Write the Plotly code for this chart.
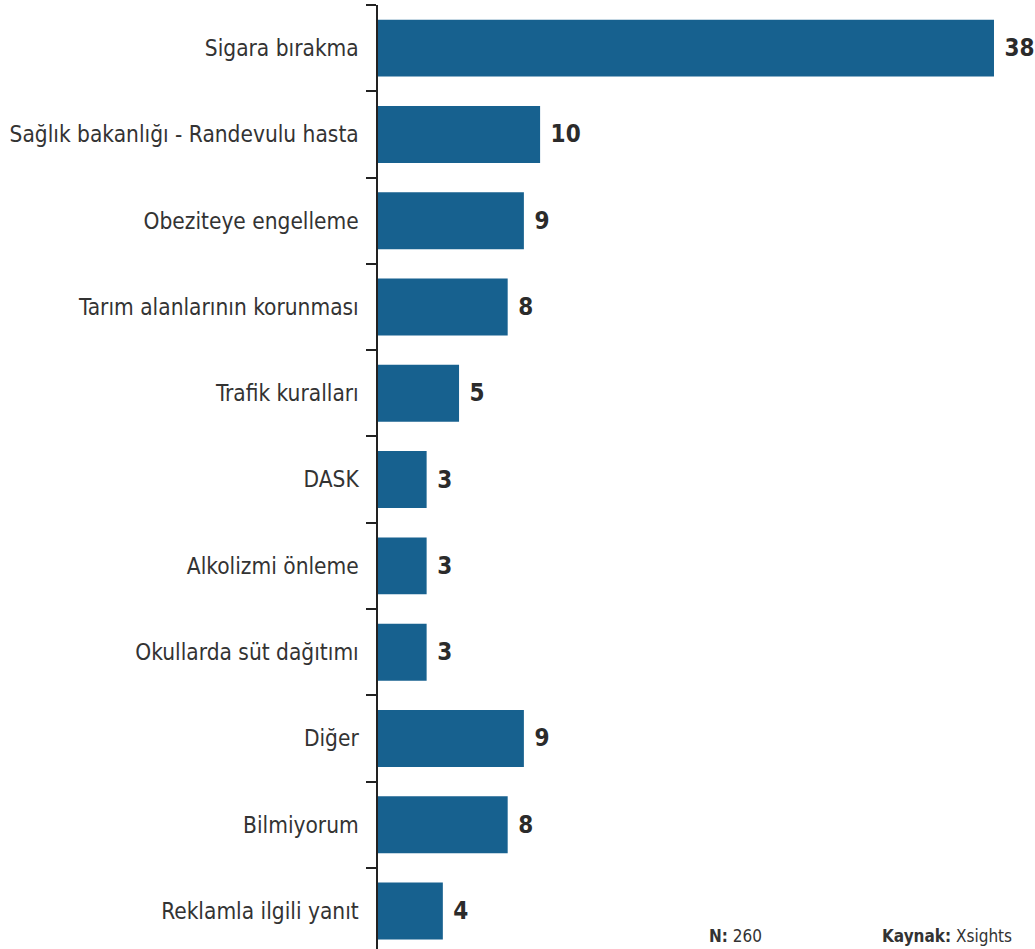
import plotly.graph_objects as go

categories = ["Sigara bırakma", "Sağlık bakanlığı - Randevulu hasta", "Obeziteye engelleme",
              "Tarım alanlarının korunması", "Trafik kuralları", "DASK", "Alkolizmi önleme",
              "Okullarda süt dağıtımı", "Diğer", "Bilmiyorum", "Reklamla ilgili yanıt"]
values = [38, 10, 9, 8, 5, 3, 3, 3, 9, 8, 4]

FONT = "Liberation Sans Narrow, DejaVu Sans Condensed, Roboto Condensed, Arial Narrow, DejaVu Sans, sans-serif"

fig = go.Figure(go.Bar(
    x=values, y=categories, orientation="h",
    marker=dict(color="#17618f", line=dict(width=0)),
    width=0.66,
    text=[" " + str(v) for v in values], textposition="outside",
    textfont=dict(family=FONT, size=24, color="#2b2b2b", weight="bold"),
    cliponaxis=False,
))

fig.update_layout(
    width=1035, height=949,
    margin=dict(l=378, r=0, t=5, b=0),
    paper_bgcolor="white", plot_bgcolor="white",
    showlegend=False,
    font=dict(family=FONT, color="#333333"),
    xaxis=dict(range=[0, 40.53], visible=False, fixedrange=True),
    yaxis=dict(type="category", range=[10.44, -0.5], showline=True, linecolor="#222222",
               linewidth=1.5, ticks="outside", ticklen=10, tickcolor="#222222", tickwidth=1.5,
               tickson="boundaries", showgrid=False, zeroline=False,
               tickfont=dict(family=FONT, size=22.5, color="#333333"), ticklabelstandoff=13),
    annotations=[
        dict(xref="paper", yref="paper", x=(707-378)/657, y=0.001, xanchor="left", yanchor="bottom",
             text="<b>N:</b> 260", showarrow=False, font=dict(family=FONT, size=17, color="#333333")),
        dict(xref="paper", yref="paper", x=(880-378)/657, y=0.001, xanchor="left", yanchor="bottom",
             text="<b>Kaynak:</b> Xsights", showarrow=False, font=dict(family=FONT, size=17, color="#333333")),
    ],
)

fig.write_html("out.html")
